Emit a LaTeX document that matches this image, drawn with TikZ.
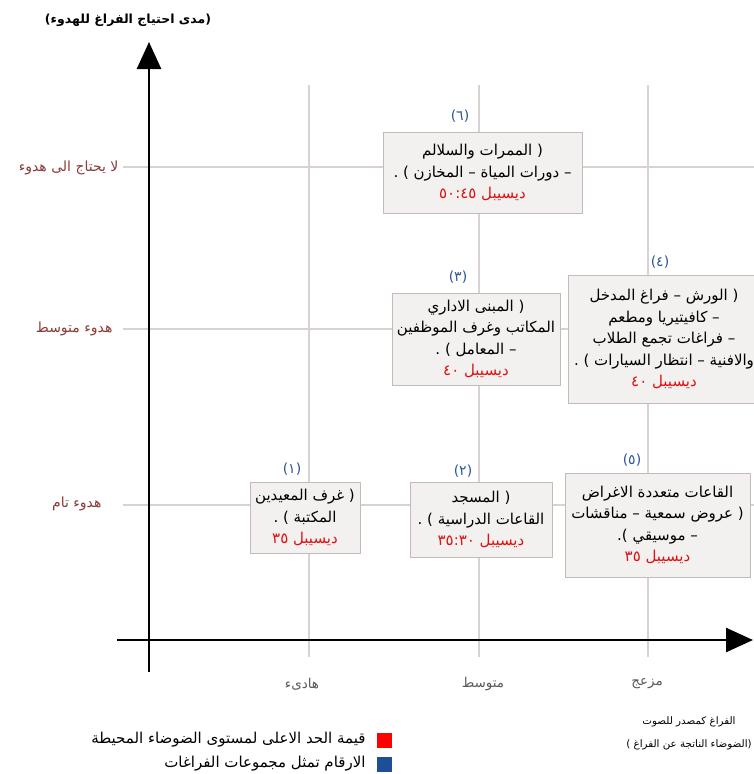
\documentclass[tikz,border=0pt]{standalone}
\usepackage{fontspec}
\usetikzlibrary{arrows.meta}
\TeXXeTstate=1
\newfontfamily\arabicfont[Script=Arabic]{DejaVu Sans}
\newcommand{\AR}[1]{\beginR#1\endR}
\definecolor{gridc}{HTML}{D9D2D2}
\definecolor{boxborder}{HTML}{C4BABA}
\definecolor{boxfill}{HTML}{F3F0F0}
\definecolor{numblue}{HTML}{2E5597}
\definecolor{ylabc}{HTML}{8B3A3A}
\definecolor{xlabc}{HTML}{5A5A5A}
\definecolor{dbred}{HTML}{E01010}
\definecolor{legred}{HTML}{FF0000}
\definecolor{legblue}{HTML}{1F4E99}
\begin{document}
\begin{tikzpicture}[x=1pt,y=-1pt,
  gridline/.style={draw=gridc,line width=2pt},
  axisline/.style={line width=2.6pt,-{Triangle[length=27pt,width=24pt]}},
  spacebox/.style={draw=boxborder,fill=boxfill,line width=1pt,align=center,
    font=\arabicfont\fontsize{15}{21.5}\selectfont,inner sep=1pt},
  grpnum/.style={text=numblue,font=\arabicfont\fontsize{14}{16}\selectfont},
  ylab/.style={text=ylabc,font=\arabicfont\fontsize{14}{16}\selectfont,anchor=east},
  xlab/.style={text=xlabc,font=\arabicfont\fontsize{13.5}{15}\selectfont},
  capt/.style={font=\arabicfont\fontsize{10.3}{13}\selectfont},
  legt/.style={font=\arabicfont\fontsize{15}{17}\selectfont,anchor=east},
  legsq/.style={minimum size=15pt,inner sep=0pt}]
\useasboundingbox (0,0) rectangle (754,774);
% grid
\foreach \gx/\gn in {309/a,479/b,648/c}{
  \coordinate (vt\gn) at (\gx,85);
  \coordinate (vb\gn) at (\gx,657);
  \draw[gridline] (vt\gn) -- (vb\gn);
}
\foreach \gy/\gn in {167/a,329/b,505/c}{
  \coordinate (hl\gn) at (123,\gy);
  \coordinate (hr\gn) at (754,\gy);
  \draw[gridline] (hl\gn) -- (hr\gn);
}
% axes
\coordinate (yb) at (149,672);
\coordinate (yt) at (149,42);
\coordinate (xl) at (117,640);
\coordinate (xr) at (753,640);
\draw[axisline] (yb) -- (yt);
\draw[axisline] (xl) -- (xr);
% title
\node[font=\arabicfont\bfseries\fontsize{12.5}{14}\selectfont] (title) at (128,20) {\AR{(مدى احتياج الفراغ للهدوء)}};
% y labels
\node[ylab] (y1) at (122,168) {\AR{لا يحتاج الى هدوء}};
\node[ylab] (y2) at (116,329) {\AR{هدوء متوسط}};
\node[ylab] (y3) at (105,504) {\AR{هدوء تام}};
% x labels
\node[xlab] (x1) at (302,684) {\AR{هادىء}};
\node[xlab] (x2) at (483,684) {\AR{متوسط}};
\node[xlab] (x3) at (647,684) {\AR{مزعج}};
% boxes
\node[spacebox,minimum width=199pt,minimum height=81pt] (b6) at (482.5,172.5) {
  \AR{( الممرات والسلالم}\\
  \AR{– دورات المياة – المخازن ) .}\\
  \textcolor{dbred}{\AR{ديسيبل ٥٠:٤٥}}};
\node[grpnum] (n6) at (460,116) {(٦)};
\node[spacebox,minimum width=168pt,minimum height=92pt] (b3) at (476,339) {
  \AR{( المبنى الاداري}\\
  \AR{المكاتب وغرف الموظفين}\\
  \AR{– المعامل ) .}\\
  \textcolor{dbred}{\AR{ديسيبل ٤٠}}};
\node[grpnum] (n3) at (458,277) {(٣)};
\node[spacebox,minimum width=192pt,minimum height=128pt] (b4) at (664,339) {
  \AR{( الورش – فراغ المدخل}\\
  \AR{– كافيتيريا ومطعم}\\
  \AR{– فراغات تجمع الطلاب}\\
  \AR{والافنية – انتظار السيارات ) .}\\
  \textcolor{dbred}{\AR{ديسيبل ٤٠}}};
\node[grpnum] (n4) at (660,262) {(٤)};
\node[spacebox,minimum width=110pt,minimum height=71pt] (b1) at (305,517.5) {
  \AR{( غرف المعيدين}\\
  \AR{المكتبة ) .}\\
  \textcolor{dbred}{\AR{ديسيبل ٣٥}}};
\node[grpnum] (n1) at (292,469) {(١)};
\node[spacebox,minimum width=142pt,minimum height=75pt] (b2) at (481,519.5) {
  \AR{( المسجد}\\
  \AR{القاعات الدراسية ) .}\\
  \textcolor{dbred}{\AR{ديسيبل ٣٥:٣٠}}};
\node[grpnum] (n2) at (463,471) {(٢)};
\node[spacebox,minimum width=185pt,minimum height=104pt] (b5) at (657.5,525) {
  \AR{القاعات متعددة الاغراض}\\
  \AR{( عروض سمعية – مناقشات}\\
  \AR{– موسيقي ).}\\
  \textcolor{dbred}{\AR{ديسيبل ٣٥}}};
\node[grpnum] (n5) at (632,460) {(٥)};
% x axis caption
\node[capt] (c1) at (689,722) {\AR{الفراغ كمصدر للصوت}};
\node[capt] (c2) at (689,745) {\AR{(الضوضاء الناتجة عن الفراغ )}};
% legend
\node[legsq,fill=legred] (lr) at (384,740) {};
\node[legsq,fill=legblue] (lb) at (384,764) {};
\node[legt] (lrt) at (369,740) {\AR{قيمة الحد الاعلى لمستوى الضوضاء المحيطة}};
\node[legt] (lbt) at (369,764) {\AR{الارقام تمثل مجموعات الفراغات}};
\end{tikzpicture}
\end{document}
